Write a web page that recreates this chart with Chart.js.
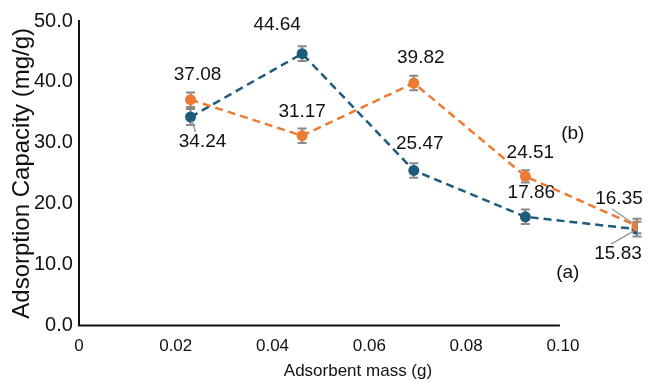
<!DOCTYPE html>
<html>
<head>
<meta charset="utf-8">
<script src="https://cdn.jsdelivr.net/npm/chart.js@4/dist/chart.umd.min.js"></script>
<style>
  body { margin: 0; background: #fff; }
  #wrap { width: 663px; height: 383px; position: relative; }
</style>
</head>
<body>
<div id="wrap"><canvas id="chart"></canvas></div>
<script>
const masses = [0.02, 0.04, 0.06, 0.08, 0.10];
const massTicks = [0, 0.02, 0.04, 0.06, 0.08, 0.10];
const capacityTicks = [0, 10, 20, 30, 40, 50];
const capacityA = [34.24, 44.64, 25.47, 17.86, 15.83];
const capacityB = [37.08, 31.17, 39.82, 24.51, 16.35];
const errorA = [1.3, 1.2, 1.2, 1.2, 1.2];
const errorB = [1.2, 1.2, 1.2, 1.0, 1.2];

// where each value label sits relative to its point (px)
const labelOffsetA = [[12, 25], [-25, -29], [6, -27], [6, -24], [-19, 25]];
const labelOffsetB = [[7, -25], [0, -24], [7, -25], [5, -24], [-18, -27]];
const leaderA = [true, false, false, false, true];
const leaderB = [false, false, false, false, true];

const blue = "#1d5c7c";
const orange = "#ec7a33";
const font = "'Liberation Sans', Arial, sans-serif";

const toPoints = (values) => values.map((v, i) => ({ x: masses[i], y: v }));

const errorBars = {
  id: "errorBars",
  beforeDatasetsDraw(chart) {
    const { ctx } = chart;
    const xs = chart.scales.x;
    const ys = chart.scales.y;
    ctx.save();
    ctx.strokeStyle = "#8a8a8a";
    ctx.lineWidth = 2;
    [[capacityA, errorA], [capacityB, errorB]].forEach(([vals, errs]) => {
      vals.forEach((v, i) => {
        const px = xs.getPixelForValue(masses[i]);
        const top = ys.getPixelForValue(v + errs[i]);
        const bot = ys.getPixelForValue(v - errs[i]);
        ctx.beginPath();
        ctx.moveTo(px, top); ctx.lineTo(px, bot);
        ctx.moveTo(px - 4.5, top); ctx.lineTo(px + 4.5, top);
        ctx.moveTo(px - 4.5, bot); ctx.lineTo(px + 4.5, bot);
        ctx.stroke();
      });
    });
    ctx.restore();
  },
};

const valueLabels = {
  id: "valueLabels",
  afterDatasetsDraw(chart) {
    const { ctx } = chart;
    const xs = chart.scales.x;
    const ys = chart.scales.y;
    ctx.save();
    ctx.font = `19px ${font}`;
    ctx.fillStyle = "#111";
    ctx.textAlign = "center";
    ctx.textBaseline = "middle";
    [[capacityA, labelOffsetA, leaderA], [capacityB, labelOffsetB, leaderB]].forEach(([vals, offs, leads]) => {
      vals.forEach((v, i) => {
        const px = xs.getPixelForValue(masses[i]);
        const py = ys.getPixelForValue(v);
        const lx = px + offs[i][0];
        const ly = py + offs[i][1];
        if (leads[i]) {
          const sx = lx - 7;
          const sy = ly + Math.sign(py - ly) * 10;
          const len = Math.hypot(sx - px, sy - py);
          ctx.strokeStyle = "#9a9a9a";
          ctx.lineWidth = 1.5;
          ctx.beginPath();
          ctx.moveTo(sx, sy);
          ctx.lineTo(px + ((sx - px) / len) * 4, py + ((sy - py) / len) * 4);
          ctx.stroke();
        }
        ctx.fillText(v.toFixed(2), lx, ly);
      });
    });
    ctx.fillText("(b)", xs.getPixelForValue(0.0885), ys.getPixelForValue(31.5));
    ctx.fillText("(a)", xs.getPixelForValue(0.0876), ys.getPixelForValue(8.7));
    ctx.restore();
  },
};

// x axis line only runs to the last tick (0.10)
const xAxisLine = {
  id: "xAxisLine",
  afterDraw(chart) {
    const { ctx, chartArea } = chart;
    const xt = chart.scales.xt;
    ctx.save();
    ctx.strokeStyle = "#111";
    ctx.lineWidth = 2;
    ctx.beginPath();
    ctx.moveTo(xt.getPixelForValue(massTicks[0]) - 1, chartArea.bottom);
    ctx.lineTo(xt.getPixelForValue(massTicks[massTicks.length - 1]) - 3, chartArea.bottom);
    ctx.stroke();
    ctx.restore();
  },
};

new Chart(document.getElementById("chart"), {
  type: "line",
  data: {
    datasets: [
      {
        label: "(b)",
        data: toPoints(capacityB),
        borderColor: orange,
        backgroundColor: orange,
        borderWidth: 2.5,
        borderDash: [8, 5],
        pointRadius: 5.5,
        pointBorderWidth: 0,
        tension: 0,
        order: 0,
      },
      {
        label: "(a)",
        data: toPoints(capacityA),
        borderColor: blue,
        backgroundColor: blue,
        borderWidth: 2.5,
        borderDash: [8, 5],
        pointRadius: 5.5,
        pointBorderWidth: 0,
        tension: 0,
        order: 1,
      },
    ],
  },
  options: {
    responsive: true,
    maintainAspectRatio: false,
    animation: false,
    layout: { padding: { left: 0, right: 26, top: 21, bottom: 0 } },
    plugins: {
      legend: { display: false },
      tooltip: { enabled: false },
    },
    scales: {
      x: {
        type: "linear",
        min: 0,
        max: 0.1,
        display: false,
      },
      xt: {
        type: "linear",
        position: "bottom",
        min: 0,
        max: 0.1153,
        grid: { display: false, drawTicks: true, tickLength: 12 },
        border: { display: false },
        afterBuildTicks: (scale) => {
          scale.ticks = massTicks.map((value) => ({ value }));
        },
        ticks: {
          padding: 0,
          color: "#111",
          font: { family: font, size: 17, lineHeight: 1 },
          maxRotation: 0,
          callback: (v) => (v === 0 ? "0" : v.toFixed(2)),
        },
        title: {
          display: true,
          text: "Adsorbent mass (g)",
          color: "#111",
          font: { family: font, size: 17 },
          padding: { top: 7, bottom: 1 },
        },
      },
      y: {
        type: "linear",
        min: 0,
        max: 50,
        grid: { display: false, drawTicks: true, tickLength: 6 },
        border: { display: true, color: "#111", width: 2 },
        afterBuildTicks: (scale) => {
          scale.ticks = capacityTicks.map((value) => ({ value }));
        },
        ticks: {
          padding: 0,
          color: "#111",
          font: { family: font, size: 20 },
          callback: (v) => v.toFixed(1),
        },
        title: {
          display: true,
          text: "Adsorption Capacity (mg/g)",
          color: "#111",
          font: { family: font, size: 24, lineHeight: 1 },
          padding: { top: 10, bottom: 0 },
        },
      },
    },
  },
  plugins: [errorBars, valueLabels, xAxisLine],
});
</script>
</body>
</html>
